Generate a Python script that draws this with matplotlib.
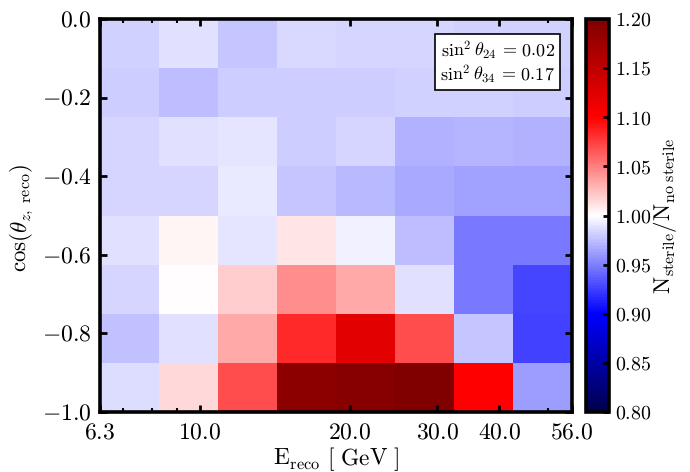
import numpy as np
import matplotlib
matplotlib.use('Agg')
import matplotlib.pyplot as plt

plt.rcParams['mathtext.fontset'] = 'cm'
plt.rcParams['font.family'] = 'cmr10'
plt.rcParams['axes.unicode_minus'] = False
plt.rcParams['text.hinting'] = 'no_hinting'

# bin edges
energy_edges = [6.3, 8.28, 10.88, 14.3, 18.78, 24.68, 32.43, 42.61, 56.0]
cos_edges = [-1.0, -0.875, -0.75, -0.625, -0.5, -0.375, -0.25, -0.125, 0.0]

# ratio per cell, top row (cos = 0) first
ratio_top_down = [
    [0.982, 0.989, 0.978, 0.985, 0.984, 0.983, 0.982, 0.982],
    [0.980, 0.975, 0.980, 0.980, 0.980, 0.982, 0.982, 0.980],
    [0.983, 0.989, 0.990, 0.981, 0.983, 0.970, 0.971, 0.970],
    [0.983, 0.983, 0.992, 0.978, 0.973, 0.967, 0.963, 0.963],
    [0.989, 1.004, 0.990, 1.010, 0.995, 0.975, 0.948, 0.948],
    [0.984, 1.001, 1.020, 1.045, 1.033, 0.989, 0.948, 0.928],
    [0.976, 0.988, 1.034, 1.083, 1.123, 1.069, 0.978, 0.926],
    [0.987, 1.015, 1.069, 1.190, 1.194, 1.200, 1.100, 0.961],
]

energy_major = [6.3, 10.0, 20.0, 30.0, 40.0, 56.0]
energy_minor = [7, 8, 9, 50]
cos_ticks = [0.0, -0.2, -0.4, -0.6, -0.8, -1.0]
cbar_ticks = [0.80, 0.85, 0.90, 0.95, 1.00, 1.05, 1.10, 1.15, 1.20]

W, H = 690, 472
fig = plt.figure(figsize=(W / 100, H / 100), dpi=100)
ax = fig.add_axes([100 / W, 1 - 412 / H, 472 / W, 393 / H])
cax = fig.add_axes([586 / W, 1 - 412 / H, 23 / W, 393 / H])

ratio = np.array(ratio_top_down)[::-1]
mesh = ax.pcolormesh(energy_edges, cos_edges, ratio, cmap='seismic', vmin=0.8, vmax=1.2)

ax.set_xscale('log')
ax.set_xlim(6.3, 56.0)
ax.set_ylim(-1.0, 0.0)
ax.set_xticks(energy_major)
ax.set_xticklabels(['$%.1f$' % e for e in energy_major])
ax.set_xticks(energy_minor, minor=True)
ax.set_xticklabels([], minor=True)
ax.set_yticks(cos_ticks)
ax.set_yticklabels(['$%.1f$' % c for c in cos_ticks])

ax.tick_params(which='major', direction='in', top=True, right=True, length=5, width=2,
               labelsize=17, pad=6)
ax.tick_params(axis='x', which='major', pad=8)
ax.tick_params(which='minor', direction='in', top=True, right=True, length=3, width=1.5)
for spine in ax.spines.values():
    spine.set_linewidth(2.6)

ax.set_xlabel(r'$\mathrm{E_{reco}}\ [\ \mathrm{GeV}\ ]$', fontsize=16.8, labelpad=1)
ax.set_ylabel(r'$\cos(\theta_{z,\ \mathrm{reco}})$', fontsize=16.5, labelpad=4, y=0.495)

ax.text(0.964, 0.891, '$\\sin^2\\theta_{24}\\,=\\,0.02$\n$\\sin^2\\theta_{34}\\,=\\,0.17$',
        transform=ax.transAxes, ha='right', va='center', fontsize=13, linespacing=1.05,
        bbox=dict(boxstyle='square,pad=0.3', fc='white', ec='black', lw=1.2), zorder=5)

cbar = fig.colorbar(mesh, cax=cax)
cbar.set_ticks(cbar_ticks)
cbar.set_ticklabels(['$%.2f$' % t for t in cbar_ticks])
cbar.ax.tick_params(direction='in', length=4, width=2, labelsize=14.3, pad=4)
cbar.outline.set_linewidth(2.6)
cbar.set_label(r'$\mathrm{N_{sterile}/N_{no\ sterile}}$', fontsize=16.5, labelpad=0)

fig.savefig('out.png', dpi=100)
